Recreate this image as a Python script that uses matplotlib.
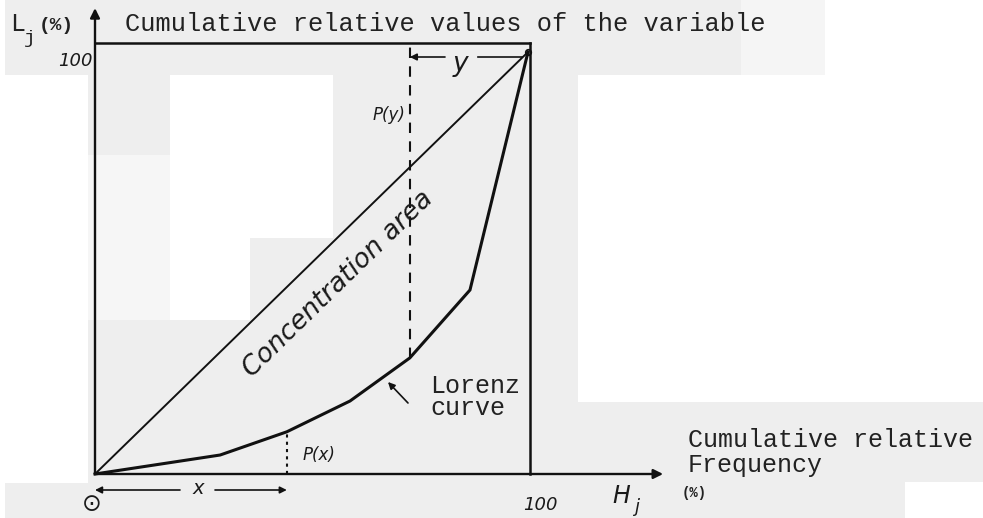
import matplotlib
matplotlib.use("Agg")
import matplotlib.pyplot as plt
from matplotlib.patches import Rectangle

# ---------------- data ----------------
lorenz_x = [0, 28.9, 44.3, 58.9, 72.7, 86.6, 100]      # cumulative relative frequency H_j (%)
lorenz_y = [0, 4.5, 10.0, 17.3, 27.5, 43.6, 100]       # cumulative relative values L_j (%)
equality_x = [0, 100]
equality_y = [0, 100]
px_index = 2   # point P(x) on the Lorenz curve
py_index = 4   # point P(y) on the Lorenz curve
top_level = 102.1   # upper frame line
right_level = 100.5 # right frame line
yaxis_top = 110.4
xaxis_end = 131.2

W, H = 983, 518
fig = plt.figure(figsize=(W / 100, H / 100), dpi=100)
fig.patch.set_facecolor("#eeeeee")

# scanned-page background patches (pixel boxes, top-left origin)
def bg(x0, y0, x1, y1, c):
    fig.add_artist(Rectangle((x0 / W, 1 - y1 / H), (x1 - x0) / W, (y1 - y0) / H,
                             transform=fig.transFigure, facecolor=c,
                             edgecolor="none", zorder=-10))

bg(0, 0, 5, 518, "white")
bg(0, 75, 88, 483, "white")
bg(88, 155, 170, 320, "#f6f6f6")
bg(170, 75, 333, 238, "white")
bg(170, 238, 250, 320, "white")
bg(578, 75, 983, 402, "white")
bg(741, 0, 825, 75, "#f5f5f5")
bg(825, 0, 983, 75, "white")
bg(905, 482, 983, 518, "white")

ax = fig.add_axes([0, 0, 1, 1])
ax.set_facecolor("none")
ax.axis("off")
XS, YS = 4.33, 4.22
ax.set_xlim(-95 / XS, (W - 95) / XS)
ax.set_ylim(-(H - 474) / YS, 474 / YS)

ink = "#111111"

# curves
ax.plot(lorenz_x, lorenz_y, color=ink, lw=2.2, solid_joinstyle="miter")
ax.plot(equality_x, equality_y, color=ink, lw=1.4)
ax.plot([lorenz_x[-1]], [lorenz_y[-1]], "o", mfc="none", mec=ink, ms=4, mew=1.2)

# frame lines
ax.plot([0, right_level], [top_level, top_level], color=ink, lw=1.8)
ax.plot([right_level, right_level], [0, top_level], color=ink, lw=1.8)

arrow_kw = dict(arrowstyle="-|>", color=ink, lw=1.7, shrinkA=0, shrinkB=0,
                mutation_scale=14)
# axes with arrows
ax.annotate("", xy=(0, yaxis_top), xytext=(0, 0), arrowprops=arrow_kw)
ax.annotate("", xy=(xaxis_end, 0), xytext=(0, 0), arrowprops=arrow_kw)

# dashed line P(y)
ax.plot([lorenz_x[py_index]] * 2, [lorenz_y[py_index], top_level], color=ink,
        lw=1.5, dashes=(5, 4))
# dotted line P(x)
ax.plot([lorenz_x[px_index]] * 2, [0, lorenz_y[px_index]], color=ink,
        lw=1.5, dashes=(1.5, 2))

small_arrow = dict(arrowstyle="-|>", color=ink, lw=1.2, shrinkA=0, shrinkB=0,
                   mutation_scale=10)
# y arrow
yy = (474 - 57) / YS
ax.annotate("", xy=(lorenz_x[py_index], yy), xytext=((445 - 95) / XS, yy),
            arrowprops=small_arrow)
ax.plot([(478 - 95) / XS, (522 - 95) / XS], [yy, yy], color=ink, lw=1.2)
# x arrow
xy_ = -(490 - 474) / YS
ax.annotate("", xy=(0, xy_), xytext=((180 - 95) / XS, xy_), arrowprops=small_arrow)
ax.annotate("", xy=(lorenz_x[px_index], xy_), xytext=((215 - 95) / XS, xy_),
            arrowprops=small_arrow)
# Lorenz curve pointer
ax.annotate("", xy=((388 - 95) / XS, (474 - 382) / YS),
            xytext=((408 - 95) / XS, (474 - 403) / YS), arrowprops=small_arrow)

# ---------------- texts ----------------
def T(x, y, s, **kw):
    fig.text(x / W, 1 - y / H, s, **kw)

mono = dict(family="Liberation Mono", color="#222222")
hand = dict(family="DejaVu Sans", style="italic", color="#1a1a1a")

T(10, 31, "L", fontsize=18, va="baseline", ha="left", **mono)
T(24, 43, "j", fontsize=14, va="baseline", ha="left", **mono)
T(39, 30, "(%)", fontsize=14, va="baseline", ha="left", weight="bold", **mono)
T(125, 31, "Cumulative relative values of the variable", fontsize=18.3,
  va="baseline", ha="left", **mono)

T(93, 61, "100", fontsize=13, va="center", ha="right", **hand)
T(405, 115, "P(y)", fontsize=12, va="center", ha="right", **hand)
T(460, 64, "y", fontsize=19, va="center", ha="center", **hand)
T(338, 284, "Concentration area", fontsize=19, va="center", ha="center",
  rotation=44.3, rotation_mode="anchor", **hand)

T(430, 393, "Lorenz", fontsize=18, va="baseline", ha="left", **mono)
T(430, 415, "curve", fontsize=18, va="baseline", ha="left", **mono)

T(688, 447, "Cumulative relative", fontsize=18, va="baseline", ha="left", **mono)
T(688, 472, "Frequency", fontsize=18, va="baseline", ha="left", **mono)

T(319, 455, "P(x)", fontsize=12, va="center", ha="center", **hand)
T(198, 489, "x", fontsize=14, va="center", ha="center", **hand)
T(92, 504, "\u2299", fontsize=17, va="center", ha="center", family="DejaVu Sans",
  color="#1a1a1a")
T(540, 505, "100", fontsize=13, va="center", ha="center", **hand)
T(621, 496, "H", fontsize=17, va="center", ha="center", **hand)
T(637, 507, "j", fontsize=13, va="center", ha="center", **hand)
T(682, 493, "(%)", fontsize=10, va="center", ha="left", weight="bold", **mono)

fig.savefig("out.png", dpi=100, facecolor=fig.get_facecolor())
